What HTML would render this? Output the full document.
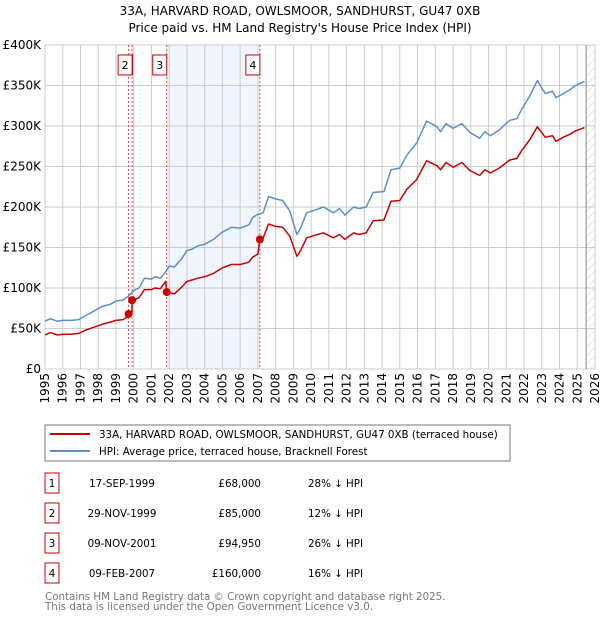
<!DOCTYPE html>
<html><head><meta charset="utf-8"><style>
body{margin:0;background:#fff;font-family:"DejaVu Sans","Liberation Sans",sans-serif;}
svg text{font-family:"DejaVu Sans","Liberation Sans",sans-serif;}
</style></head><body>
<svg id="chart" width="600" height="620" viewBox="0 0 600 620" xmlns="http://www.w3.org/2000/svg">
<text x="300" y="15" text-anchor="middle" font-size="12">33A, HARVARD ROAD, OWLSMOOR, SANDHURST, GU47 0XB</text>
<text x="300" y="32" text-anchor="middle" font-size="12">Price paid vs. HM Land Registry's House Price Index (HPI)</text>
<defs><pattern id="hatch" width="6" height="6" patternUnits="userSpaceOnUse" patternTransform="rotate(45)"><line x1="0" y1="0" x2="0" y2="6" stroke="#ccc" stroke-width="1"/></pattern></defs>
<g id="grid"></g><g id="marks"></g><g id="axes"></g>
<rect x="45" y="425" width="465" height="36" fill="#fff" stroke="#777"/>
<line x1="50" y1="434" x2="90" y2="434" stroke="#cc0000" stroke-width="2"/>
<text x="99" y="438" font-size="10.3">33A, HARVARD ROAD, OWLSMOOR, SANDHURST, GU47 0XB (terraced house)</text>
<line x1="50" y1="451" x2="90" y2="451" stroke="#5b8fd0" stroke-width="2"/>
<text x="99" y="455" font-size="10.3">HPI: Average price, terraced house, Bracknell Forest</text>
<g id="table" font-size="10.3"></g>
<text x="45" y="600" font-size="10.3" fill="#777">Contains HM Land Registry data © Crown copyright and database right 2025.</text>
<text x="45" y="610" font-size="10.3" fill="#777">This data is licensed under the Open Government Licence v3.0.</text>
</svg>
<script>
const hpiYears=[1995.0,1995.3,1995.7,1996.0,1996.5,1996.9,1997.3,1997.8,1998.2,1998.7,1999.0,1999.4,1999.7,2000.0,2000.3,2000.6,2001.0,2001.2,2001.5,2001.8,2002.0,2002.3,2002.7,2003.0,2003.3,2003.6,2004.0,2004.5,2005.0,2005.5,2006.0,2006.5,2006.7,2007.0,2007.3,2007.6,2008.0,2008.4,2008.8,2009.2,2009.4,2009.75,2010.2,2010.7,2011.25,2011.6,2011.9,2012.4,2012.7,2013.1,2013.5,2014.1,2014.5,2015.0,2015.4,2015.95,2016.5,2017.1,2017.3,2017.6,2018.0,2018.5,2018.95,2019.5,2019.8,2020.1,2020.6,2021.2,2021.6,2021.85,2022.35,2022.75,2023.2,2023.6,2023.8,2024.2,2024.6,2024.9,2025.4];
const hpiValues=[59,62,59,60,60,61,66,72,77,80,84,85,90,97,100,112,111,114,112,120,127,126,136,146,148,152,154,160,169,175,174,178,187,191,193,213,210,208,195,166,174,193,196,200,193,198,190,200,198,200,218,219,246,248,264,279,306,299,293,303,297,303,292,285,293,288,295,307,309,320,338,356,340,343,335,340,345,350,355];
const propYears=[1995.0,1995.3,1995.7,1996.0,1996.5,1996.9,1997.3,1997.8,1998.2,1998.7,1999.0,1999.4,1999.7,1999.71,1999.9,1999.91,2000.0,2000.3,2000.6,2001.0,2001.2,2001.5,2001.8,2001.86,2002.0,2002.3,2002.7,2003.0,2003.3,2003.6,2004.0,2004.5,2005.0,2005.5,2006.0,2006.5,2006.7,2007.0,2007.11,2007.3,2007.6,2008.0,2008.4,2008.8,2009.2,2009.4,2009.75,2010.2,2010.7,2011.25,2011.6,2011.9,2012.4,2012.7,2013.1,2013.5,2014.1,2014.5,2015.0,2015.4,2015.95,2016.5,2017.1,2017.3,2017.6,2018.0,2018.5,2018.95,2019.5,2019.8,2020.1,2020.6,2021.2,2021.6,2021.85,2022.35,2022.75,2023.2,2023.6,2023.8,2024.2,2024.6,2024.9,2025.4];
const propValues=[42,45,42,43,43,44,48,52,55,58,60,61,65,68,69,85,85,88,98,98,100,99,108,95,94,93,101,108,110,112,114,118,125,129,129,132,138,142,160,162,179,176,175,164,139,146,162,165,168,162,166,160,168,166,168,183,184,207,208,222,234,257,251,246,255,249,255,245,239,246,242,248,258,260,269,284,299,286,288,281,286,290,294,298];
const saleLabels=["1","2","3","4"];
const saleYears=[1999.71,1999.91,2001.86,2007.11];
const salePrices=[68,85,94.95,160];
const saleDates=["17-SEP-1999","29-NOV-1999","09-NOV-2001","09-FEB-2007"];
const salePriceText=["£68,000","£85,000","£94,950","£160,000"];
const saleHpiText=["28% ↓ HPI","12% ↓ HPI","26% ↓ HPI","16% ↓ HPI"];
const yTicks=[0,50,100,150,200,250,300,350,400];
const yTickLabels=["£0","£50K","£100K","£150K","£200K","£250K","£300K","£350K","£400K"];
const xTicks=[1995,1996,1997,1998,1999,2000,2001,2002,2003,2004,2005,2006,2007,2008,2009,2010,2011,2012,2013,2014,2015,2016,2017,2018,2019,2020,2021,2022,2023,2024,2025,2026];
const dataEnd=2025.5;

const NS="http://www.w3.org/2000/svg";
const X0=45,X1=595,Y0=369,Y1=45;
const xs=y=>X0+(y-1995)/(2026-1995)*(X1-X0);
const ys=v=>Y0-(v/400)*(Y0-Y1);
function mk(tag,attrs,parent){const e=document.createElementNS(NS,tag);for(const k in attrs)e.setAttribute(k,attrs[k]);parent.appendChild(e);return e;}
const grid=document.getElementById('grid'),marks=document.getElementById('marks'),axes=document.getElementById('axes'),table=document.getElementById('table');

let bg=mk('rect',{x:X0,y:Y1,width:X1-X0,height:Y0-Y1,fill:'#fff'},grid);


let sh=mk('rect',{x:xs(saleYears[2]),y:Y1,width:xs(saleYears[3])-xs(saleYears[2]),height:Y0-Y1,fill:'#eef3fc',opacity:0.8},grid);


let ht=mk('rect',{x:xs(dataEnd),y:Y1,width:X1-xs(dataEnd),height:Y0-Y1,fill:'url(#hatch)'},grid);


yTicks.forEach((t,i)=>{
  let l=mk('line',{x1:X0,x2:X1,y1:ys(t),y2:ys(t),stroke:'#ccc','stroke-width':1},grid);
  
  
  let tx=mk('text',{x:X0-4,y:ys(t)+4,'text-anchor':'end','font-size':12},axes);
  tx.textContent=yTickLabels[i];
  
  
});
xTicks.forEach(t=>{
  let l=mk('line',{x1:xs(t),x2:xs(t),y1:Y1,y2:Y0,stroke:'#ccc','stroke-width':1},grid);
  
  
  let tx=mk('text',{x:0,y:0,'text-anchor':'end','font-size':12,transform:`translate(${xs(t)+4},${Y0+4}) rotate(-90)`},axes);
  tx.textContent=String(t);
  
  
});
let el=mk('line',{x1:xs(dataEnd),x2:xs(dataEnd),y1:Y1,y2:Y0,stroke:'#888','stroke-width':1},grid);


saleYears.forEach((s,i)=>{
  let l=mk('line',{x1:xs(s),x2:xs(s),y1:Y1,y2:Y0,stroke:'#e05050','stroke-width':1,'stroke-dasharray':'2,2'},marks);
  
  
});
function path(xsArr,vs,color,name){
  let d=xsArr.map((y,i)=>(i?'L':'M')+xs(y).toFixed(1)+','+ys(vs[i]).toFixed(1)).join('');
  let p=mk('path',{d:d,fill:'none',stroke:color,'stroke-width':1.5,'stroke-linejoin':'round'},marks);
  
  
}
path(hpiYears,hpiValues,'#5b8fd0','hpi-line');
path(propYears,propValues,'#cc0000','property-line');
saleYears.forEach((s,i)=>{
  let c=mk('circle',{cx:xs(s),cy:ys(salePrices[i]),r:4,fill:'#cc0000'},marks);
  
  
  let g=mk('g',{},marks);
  
  
  let bxx=i==0?xs(s)-10:xs(s)-14;
  mk('rect',{x:bxx,y:55,width:14,height:20,fill:'#fff',stroke:'#cc0000'},g);
  let t=mk('text',{x:bxx+7,y:69,'text-anchor':'middle','font-size':11},g);
  t.textContent=saleLabels[i];
});
saleLabels.forEach((lab,i)=>{
  const cy=483+i*30;
  let g=mk('g',{},table);
  
  
  mk('rect',{x:45,y:cy-10,width:14,height:20,fill:'#fff',stroke:'#cc0000'},g);
  let a=mk('text',{x:52,y:cy+4,'text-anchor':'middle'},g);a.textContent=lab;
  let b=mk('text',{x:122,y:cy+4,'text-anchor':'middle'},g);b.textContent=saleDates[i];
  let c=mk('text',{x:261,y:cy+4,'text-anchor':'end'},g);c.textContent=salePriceText[i];
  let d=mk('text',{x:308,y:cy+4},g);d.textContent=saleHpiText[i];
});
</script>
</body></html>
